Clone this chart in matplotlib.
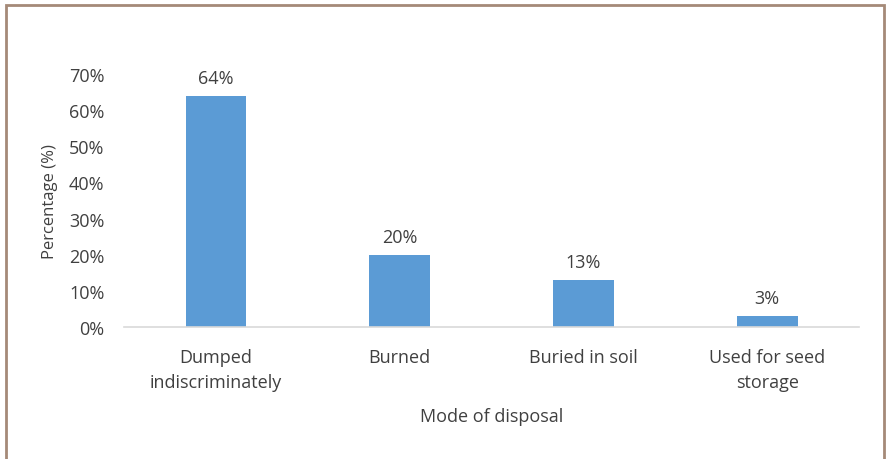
import matplotlib.pyplot as plt
from matplotlib.patches import Rectangle

categories = ["Dumped\nindiscriminately", "Burned", "Buried in soil", "Used for seed\nstorage"]
values = [0.64, 0.20, 0.13, 0.03]
labels = ["64%", "20%", "13%", "3%"]
yticks = [0, 0.1, 0.2, 0.3, 0.4, 0.5, 0.6, 0.7]

plt.rcParams['font.family'] = ['Open Sans', 'DejaVu Sans']
text_color = '#404040'

fig = plt.figure(figsize=(8.9, 4.6), dpi=100)
ax = fig.add_axes([0.1393, 0.287, 0.826, 0.55])

x = range(len(categories))
ax.bar(x, values, width=0.33, color='#5B9BD5')
for xi, v, lab in zip(x, values, labels):
    ax.text(xi, v + 0.025, lab, ha='center', va='bottom', fontsize=13, color=text_color)

ax.set_xlim(-0.5, 3.5)
ax.set_ylim(0, 0.70)
ax.set_yticks(yticks)
ax.set_yticklabels([f"{int(round(t * 100))}%" for t in yticks])
ax.set_xticks(list(x))
ax.set_xticklabels(categories, linespacing=1.5)
ax.tick_params(axis='both', length=0, labelsize=13, labelcolor=text_color)
ax.tick_params(axis='y', pad=14)
ax.tick_params(axis='x', pad=15)

for s in ['top', 'right', 'left']:
    ax.spines[s].set_visible(False)
ax.spines['bottom'].set_color('#D9D9D9')
ax.spines['bottom'].set_linewidth(1.2)

ax.set_ylabel("Percentage (%)", fontsize=12, color=text_color, labelpad=8)
ax.set_xlabel("Mode of disposal", fontsize=13, color=text_color, labelpad=12)

fig.patches.append(Rectangle((6 / 890, -0.1), (884 - 6) / 890, 1.1 - 6 / 460,
                             transform=fig.transFigure, fill=False,
                             edgecolor='#A58A78', linewidth=2))

fig.savefig('out.png', dpi=100)
